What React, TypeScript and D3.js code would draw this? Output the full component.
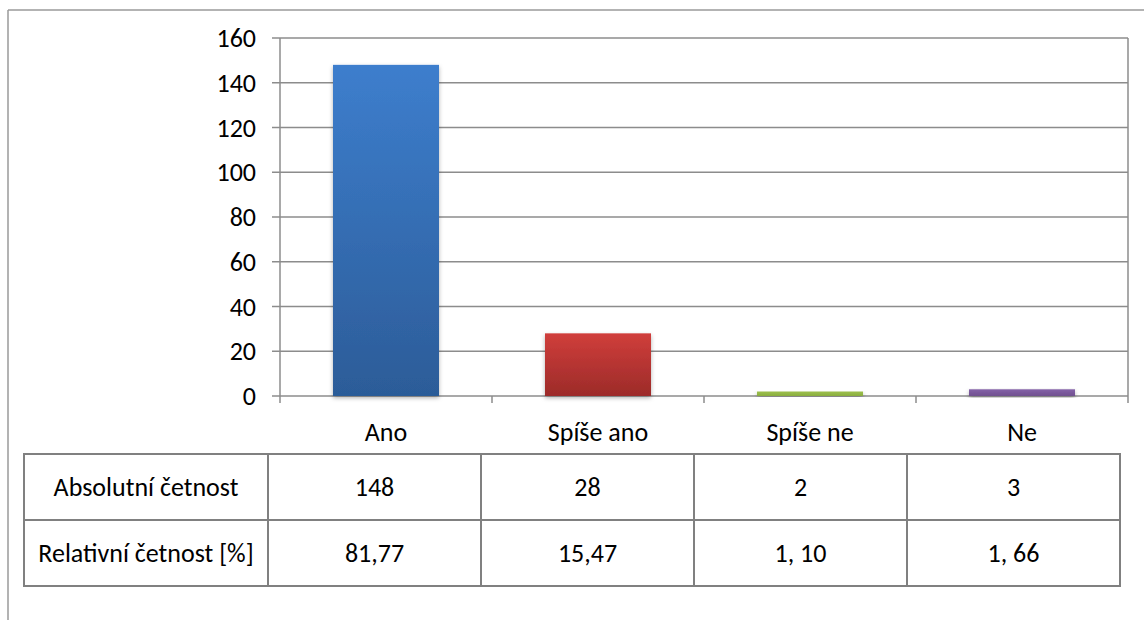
import React from "react";
import * as d3 from "d3";

const categories = ["Ano", "Spíše ano", "Spíše ne", "Ne"];
const values = [148, 28, 2, 3];
const relative = ["81,77", "15,47", "1, 10", "1, 66"];
const rowLabels = ["Absolutní četnost", "Relativní četnost [%]"];
const yTicks = [0, 20, 40, 60, 80, 100, 120, 140, 160];
const barColors = [
  ["#3D7ECD", "#2C5C98"],
  ["#D03E3B", "#9C2B29"],
  ["#9DC04C", "#8AAE3F"],
  ["#8462A8", "#70508F"],
];

const W = 1144;
const H = 620;
const FONT = "Carlito, Calibri, Lato, 'Open Sans', sans-serif";
const FS = 26;

export default function App() {
  const left = 280, right = 1128, top = 38, bottom = 396;
  const x = d3.scaleBand<string>().domain(categories).range([left, right]).paddingInner(0.5).paddingOuter(0.25);
  const xStep = d3.scaleBand<string>().domain(categories).range([left, right]);
  const y = d3.scaleLinear().domain([0, 160]).range([bottom, top]);

  const tLeft = 24, tTop = 454, tRow = 66, firstCol = 268, tRight = 1120;
  const colX = d3.scaleBand<string>().domain(categories).range([firstCol, tRight]);

  const gridColor = "#8C8C8C";
  return (
    <svg width={W} height={H} style={{ position: "absolute", left: 0, top: 0 }} fontFamily={FONT}>
      <defs>
        {barColors.map((c, i) => (
          <linearGradient key={i} id={`g${i}`} x1="0" y1="0" x2="0" y2="1">
            <stop offset="0%" stopColor={c[0]} />
            <stop offset="100%" stopColor={c[1]} />
          </linearGradient>
        ))}
        <filter id="sh" x="-10%" y="-10%" width="120%" height="130%">
          <feDropShadow dx="0" dy="2" stdDeviation="2" floodColor="#000" floodOpacity="0.3" />
        </filter>
      </defs>
      <rect x={0} y={0} width={W} height={H} fill="#fff" />
      {/* outer frame */}
      <line x1={8} y1={10} x2={W} y2={10} stroke="#9A9A9A" strokeWidth={1.5} />
      <line x1={8} y1={10} x2={8} y2={H} stroke="#9A9A9A" strokeWidth={1.5} />

      {/* gridlines */}
      {yTicks.map((t) => (
        <g key={t}>
          <line x1={left - 8} x2={right} y1={y(t)} y2={y(t)} stroke={gridColor} strokeWidth={1.5} />
          <text x={256} y={y(t)} dy="0.35em" textAnchor="end" fontSize={FS} fill="#000">{t}</text>
        </g>
      ))}
      <line x1={left} x2={left} y1={top} y2={bottom} stroke={gridColor} strokeWidth={1.5} />
      <line x1={right} x2={right} y1={top} y2={bottom + 7} stroke={gridColor} strokeWidth={1.5} />
      {categories.map((c) => (
        <line key={c} x1={xStep(c)!} x2={xStep(c)!} y1={bottom} y2={bottom + 7} stroke={gridColor} strokeWidth={1.5} />
      ))}

      {/* bars */}
      {categories.map((c, i) => (
        <rect
          key={c}
          x={x(c)!}
          y={y(values[i])}
          width={x.bandwidth()}
          height={bottom - y(values[i])}
          fill={`url(#g${i})`}
          filter="url(#sh)"
        />
      ))}

      {/* category labels */}
      {categories.map((c) => (
        <text key={c} x={xStep(c)! + xStep.bandwidth() / 2} y={432} dy="0.35em" textAnchor="middle" fontSize={FS} fill="#000">
          {c}
        </text>
      ))}

      {/* table */}
      <rect x={tLeft} y={tTop} width={tRight - tLeft} height={tRow * 2} fill="none" stroke="#808080" strokeWidth={2} />
      <line x1={tLeft} x2={tRight} y1={tTop + tRow} y2={tTop + tRow} stroke="#808080" strokeWidth={2} />
      <line x1={firstCol} x2={firstCol} y1={tTop} y2={tTop + 2 * tRow} stroke="#808080" strokeWidth={2} />
      {categories.slice(1).map((c) => (
        <line key={c} x1={colX(c)!} x2={colX(c)!} y1={tTop} y2={tTop + 2 * tRow} stroke="#808080" strokeWidth={2} />
      ))}
      {rowLabels.map((r, ri) => (
        <text key={r} x={(tLeft + firstCol) / 2} y={tTop + tRow * ri + tRow / 2} dy="0.35em" textAnchor="middle" fontSize={FS} fill="#000">
          {r}
        </text>
      ))}
      {categories.map((c, i) => (
        <g key={c}>
          <text x={colX(c)! + colX.bandwidth() / 2} y={tTop + tRow / 2} dy="0.35em" textAnchor="middle" fontSize={FS} fill="#000">
            {values[i]}
          </text>
          <text x={colX(c)! + colX.bandwidth() / 2} y={tTop + tRow * 1.5} dy="0.35em" textAnchor="middle" fontSize={FS} fill="#000">
            {relative[i]}
          </text>
        </g>
      ))}
    </svg>
  );
}
